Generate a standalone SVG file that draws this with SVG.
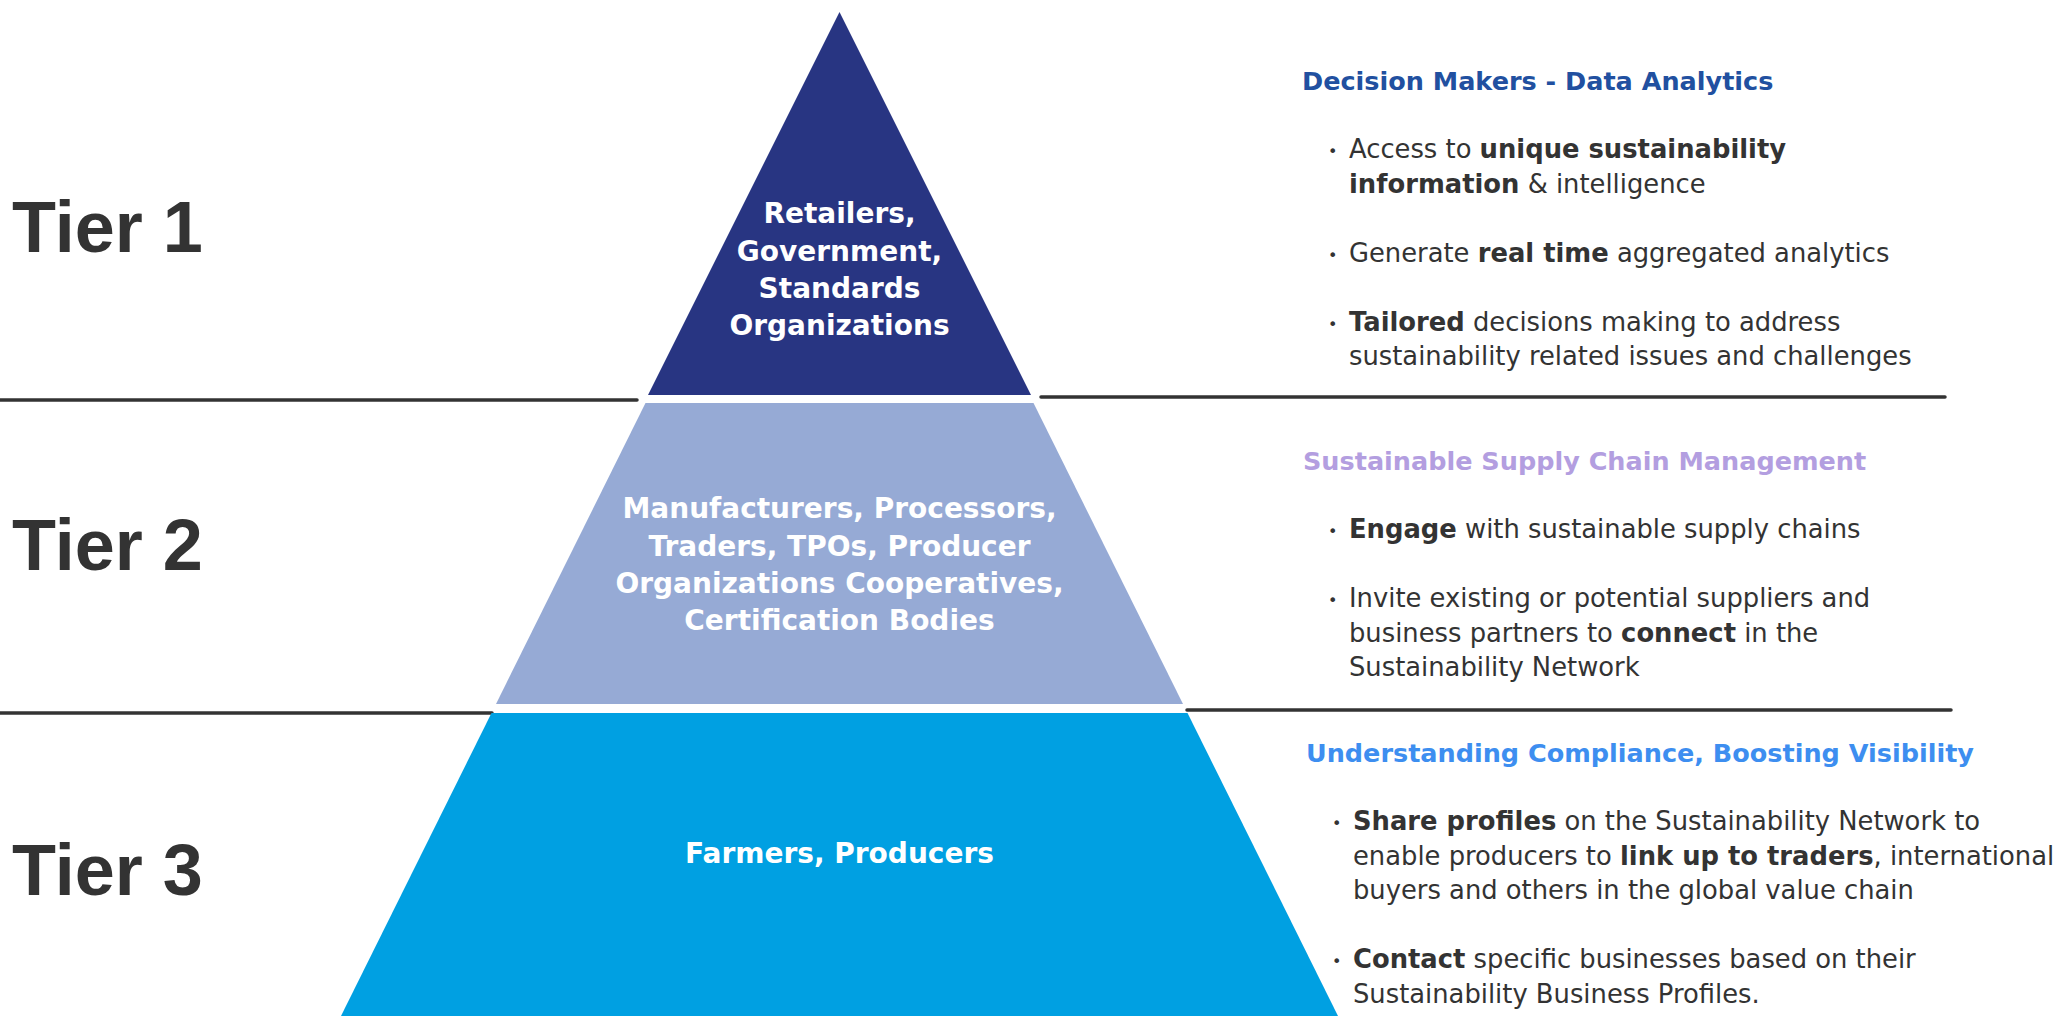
<svg xmlns="http://www.w3.org/2000/svg" width="2053" height="1016" viewBox="0 0 2053 1016">
<style>
.tier{font-family:"Liberation Sans",Arial,sans-serif;font-weight:bold;font-size:72px;fill:#333333}
.in{font-family:"DejaVu Sans",sans-serif;font-weight:bold;font-size:28px;fill:#ffffff;text-anchor:middle}
.h{font-family:"DejaVu Sans",sans-serif;font-weight:bold;font-size:25.5px}
.b{font-family:"DejaVu Sans",sans-serif;font-size:25.8px;fill:#333333}
.dot{font-family:"DejaVu Sans",sans-serif;font-size:16px;fill:#333333}
.bo{font-weight:bold}
.sep{stroke:#333333;stroke-width:3.5;stroke-linecap:round;fill:none}
</style>
<rect width="2053" height="1016" fill="#ffffff"/>
<g id="connectors">
<line class="sep" x1="0" y1="400" x2="637" y2="400"/>
<line class="sep" x1="1041" y1="397" x2="1945" y2="397"/>
<line class="sep" x1="0" y1="713" x2="492" y2="713"/>
<line class="sep" x1="1187" y1="710" x2="1951" y2="710"/>
</g>
<g id="tier1-label"><text class="tier" x="12" y="252">Tier 1</text></g>
<g id="tier2-label"><text class="tier" x="12" y="570">Tier 2</text></g>
<g id="tier3-label"><text class="tier" x="12" y="895">Tier 3</text></g>
<g id="tier1">
<polygon points="839.5,12 1031,395 648,395" fill="#283582"/>
<text class="in" x="839.5" y="223">Retailers,</text>
<text class="in" x="839.5" y="261">Government,</text>
<text class="in" x="839.5" y="298">Standards</text>
<text class="in" x="839.5" y="335">Organizations</text>
</g>
<g id="tier2">
<polygon points="645.5,403 1033.5,403 1183,704 496,704" fill="#96aad5"/>
<text class="in" x="839.5" y="518">Manufacturers, Processors,</text>
<text class="in" x="839.5" y="556">Traders, TPOs, Producer</text>
<text class="in" x="839.5" y="593">Organizations Cooperatives,</text>
<text class="in" x="839.5" y="630">Certification Bodies</text>
</g>
<g id="tier3">
<polygon points="491.5,713 1187.5,713 1338,1016 341,1016" fill="#00a0e2"/>
<text class="in" x="839.5" y="863">Farmers, Producers</text>
</g>
<g id="desc1">
<text class="h" x="1302" y="90" fill="#2150a0">Decision Makers - Data Analytics</text>
<text class="dot" x="1328" y="157">•</text>
<text class="b" x="1349" y="158">Access to <tspan class="bo">unique sustainability</tspan></text>
<text class="b" x="1349" y="193"><tspan class="bo">information</tspan> &amp; intelligence</text>
<text class="dot" x="1328" y="261">•</text>
<text class="b" x="1349" y="262">Generate <tspan class="bo">real time</tspan> aggregated analytics</text>
<text class="dot" x="1328" y="330">•</text>
<text class="b" x="1349" y="331"><tspan class="bo">Tailored</tspan> decisions making to address</text>
<text class="b" x="1349" y="365">sustainability related issues and challenges</text>
</g>
<g id="desc2">
<text class="h" x="1303" y="470" fill="#b39ee0">Sustainable Supply Chain Management</text>
<text class="dot" x="1328" y="537">•</text>
<text class="b" x="1349" y="538"><tspan class="bo">Engage</tspan> with sustainable supply chains</text>
<text class="dot" x="1328" y="606">•</text>
<text class="b" x="1349" y="607">Invite existing or potential suppliers and</text>
<text class="b" x="1349" y="642">business partners to <tspan class="bo">connect</tspan> in the</text>
<text class="b" x="1349" y="676">Sustainability Network</text>
</g>
<g id="desc3">
<text class="h" x="1306" y="762" fill="#3d8ef0">Understanding Compliance, Boosting Visibility</text>
<text class="dot" x="1332" y="829">•</text>
<text class="b" x="1353" y="830"><tspan class="bo">Share profiles</tspan> on the Sustainability Network to</text>
<text class="b" x="1353" y="865">enable producers to <tspan class="bo">link up to traders</tspan>, international</text>
<text class="b" x="1353" y="899">buyers and others in the global value chain</text>
<text class="dot" x="1332" y="967">•</text>
<text class="b" x="1353" y="968"><tspan class="bo">Contact</tspan> specific businesses based on their</text>
<text class="b" x="1353" y="1003">Sustainability Business Profiles.</text>
</g>
</svg>
